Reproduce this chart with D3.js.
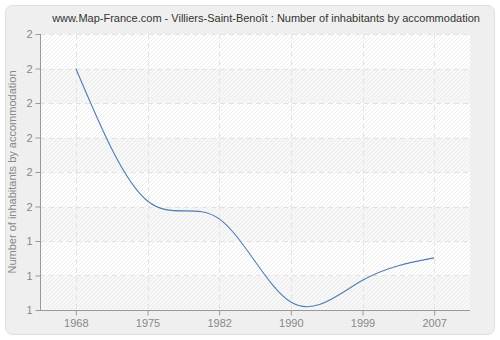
<!DOCTYPE html>
<html>
<head>
<meta charset="utf-8">
<script src="https://cdn.jsdelivr.net/npm/d3@7"></script>
<style>
  body { margin: 0; background: #fff; }
  svg text { font-family: "Liberation Sans", Arial, sans-serif; }
</style>
</head>
<body>
<div class="chart"></div>
<script>
const years = ['1968', '1975', '1982', '1990', '1999', '2007'];
const values = [1.90, 1.516, 1.464, 1.223, 1.286, 1.351];
const yTicks = [1.2, 1.3, 1.4, 1.5, 1.6, 1.7, 1.8, 1.9, 2.0];
const yTickLabels = ['1', '1', '1', '2', '2', '2', '2', '2', '2'];
const title = 'www.Map-France.com - Villiers-Saint-Benoît : Number of inhabitants by accommodation';
const yTitle = 'Number of inhabitants by accommodation';

const width = 500, height = 340;
const margin = { top: 34, right: 30, bottom: 30, left: 40 };

const svg = d3.select('.chart')
    .append('svg')
    .attr('width', width)
    .attr('height', height);

// hachures du fond
const defs = svg.append('defs');
const pat = defs.append('pattern')
    .attr('id', 'hatch')
    .attr('patternUnits', 'userSpaceOnUse')
    .attr('width', 4)
    .attr('height', 4);
pat.append('path')
    .attr('d', 'M-1,1 l2,-2 M0,4 l4,-4 M3,5 l2,-2')
    .attr('stroke', '#ececec')
    .attr('stroke-width', 1);

// panneau extérieur
svg.append('rect')
    .attr('x', 5.5).attr('y', 5.5)
    .attr('width', width - 11).attr('height', height - 11)
    .attr('rx', 7)
    .attr('fill', '#efefef')
    .attr('stroke', '#dedede');

const x = d3.scalePoint()
    .domain(years)
    .range([margin.left, width - margin.right])
    .padding(0.5);

const y = d3.scaleLinear()
    .domain([1.2, 2.0])
    .range([height - margin.bottom, margin.top]);

const plotW = width - margin.right - margin.left;

// fond de la zone de tracé
svg.append('rect')
    .attr('x', margin.left).attr('y', margin.top)
    .attr('width', plotW)
    .attr('height', y(1.2) - y(2.0))
    .attr('fill', '#ffffff');

// bandes alternées
svg.append('g')
    .selectAll('rect')
    .data(yTicks.slice(0, -1))
    .enter()
    .append('rect')
    .attr('x', margin.left)
    .attr('y', (d, i) => y(yTicks[i + 1]))
    .attr('width', plotW)
    .attr('height', (d, i) => y(d) - y(yTicks[i + 1]))
    .attr('fill', (d, i) => (yTicks.length - 2 - i) % 2 === 1 ? '#f7f7f7' : '#ffffff');

svg.append('rect')
    .attr('x', margin.left).attr('y', margin.top)
    .attr('width', plotW)
    .attr('height', y(1.2) - y(2.0))
    .attr('fill', 'url(#hatch)');

// grille
svg.append('g')
    .selectAll('line')
    .data(yTicks)
    .enter()
    .append('line')
    .attr('x1', margin.left).attr('x2', width - margin.right)
    .attr('y1', d => Math.round(y(d)) + 0.5)
    .attr('y2', d => Math.round(y(d)) + 0.5)
    .attr('stroke', '#e2e2e2')
    .attr('stroke-dasharray', '5,4');

svg.append('g')
    .selectAll('line')
    .data(years)
    .enter()
    .append('line')
    .attr('x1', d => Math.round(x(d)) + 0.5)
    .attr('x2', d => Math.round(x(d)) + 0.5)
    .attr('y1', margin.top).attr('y2', height - margin.bottom)
    .attr('stroke', '#e2e2e2')
    .attr('stroke-dasharray', '5,4');

// axes
const yAxis = d3.axisLeft(y)
    .tickValues(yTicks)
    .tickSize(5)
    .tickPadding(3)
    .tickFormat((d, i) => yTickLabels[i]);

const gy = svg.append('g')
    .attr('transform', `translate(${margin.left + 0.5},0)`)
    .call(yAxis);

const xAxis = d3.axisBottom(x)
    .tickSize(5)
    .tickPadding(4);

const gx = svg.append('g')
    .attr('transform', `translate(0,${height - margin.bottom + 0.5})`)
    .call(xAxis);

[gx, gy].forEach(g => {
    g.select('.domain').attr('stroke', '#999').attr('d', null);
    g.selectAll('.tick line').attr('stroke', '#999');
    g.selectAll('.tick text')
        .attr('fill', '#888')
        .style('font-size', '11px')
        .style('font-family', '"Liberation Sans", Arial, sans-serif');
});
gy.select('.domain').remove();
gx.select('.domain').remove();

// lignes des axes
svg.append('line')
    .attr('x1', margin.left + 0.5).attr('x2', margin.left + 0.5)
    .attr('y1', margin.top).attr('y2', height - margin.bottom + 0.5)
    .attr('stroke', '#999');
svg.append('line')
    .attr('x1', margin.left).attr('x2', width - margin.right)
    .attr('y1', height - margin.bottom + 0.5).attr('y2', height - margin.bottom + 0.5)
    .attr('stroke', '#999');

// courbe
const line = d3.line()
    .x((d, i) => x(years[i]))
    .y(d => y(d))
    .curve(d3.curveNatural);

svg.append('path')
    .datum(values)
    .attr('d', line)
    .attr('fill', 'none')
    .attr('stroke', '#4f7db5')
    .attr('stroke-width', 1.1);

// titres
svg.append('text')
    .attr('x', 266)
    .attr('y', 22)
    .attr('text-anchor', 'middle')
    .attr('fill', '#333')
    .style('font-size', '11px')
    .text(title);

svg.append('text')
    .attr('transform', `translate(16,${(margin.top + height - margin.bottom) / 2}) rotate(-90)`)
    .attr('text-anchor', 'middle')
    .attr('fill', '#888')
    .style('font-size', '11px')
    .text(yTitle);
</script>
</body>
</html>
